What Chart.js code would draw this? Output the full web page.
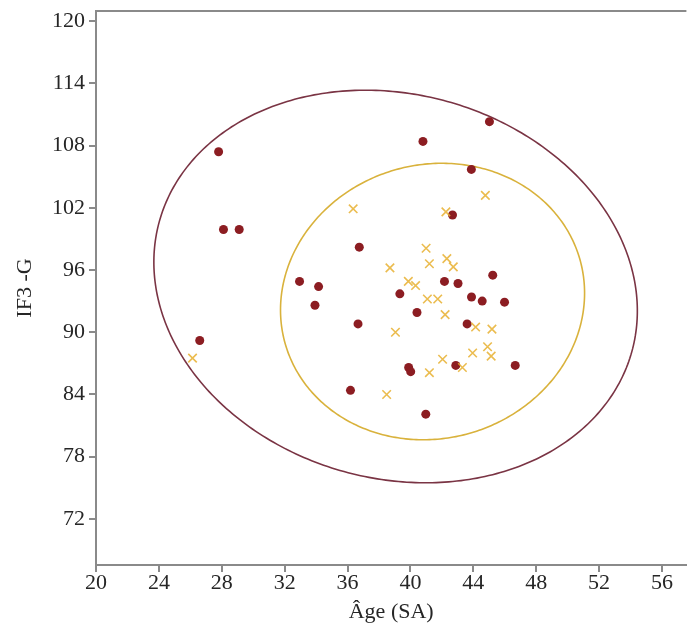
<!DOCTYPE html>
<html>
<head>
<meta charset="utf-8">
<script src="https://cdn.jsdelivr.net/npm/chart.js@4/dist/chart.umd.min.js"></script>
<style>
  html, body { margin: 0; padding: 0; background: #ffffff; }
  #wrap { width: 694px; height: 631px; }
</style>
</head>
<body>
<div id="wrap"><canvas id="c" width="694" height="631"></canvas></div>
<script>
// ---- Data ----
const xTickValues = [20, 24, 28, 32, 36, 40, 44, 48, 52, 56];
const yTickValues = [72, 78, 84, 90, 96, 102, 108, 114, 120];

// Group 1 (dark red dots)
const dotsX = [27.80, 28.11, 29.11, 26.60, 45.03, 40.80, 43.88, 42.68, 36.75, 32.95,
               34.16, 33.93, 36.67, 39.33, 42.17, 43.03, 45.24, 43.89, 44.57, 45.99,
               40.42, 43.61, 39.89, 40.02, 42.89, 46.67, 36.19, 40.98];
const dotsY = [107.4, 99.9, 99.9, 89.2, 110.3, 108.4, 105.7, 101.3, 98.2, 94.9,
               94.4, 92.6, 90.8, 93.7, 94.9, 94.7, 95.5, 93.4, 93.0, 92.9,
               91.9, 90.8, 86.6, 86.2, 86.8, 86.8, 84.4, 82.1];

// Group 2 (yellow crosses)
const crossX = [26.14, 36.36, 44.77, 42.26, 41.00, 41.21, 42.32, 42.73, 38.70, 39.87,
                40.33, 41.08, 41.74, 42.21, 39.05, 44.15, 45.19, 44.91, 45.14, 43.96,
                42.05, 41.21, 43.31, 38.49];
const crossY = [87.5, 101.9, 103.2, 101.6, 98.1, 96.6, 97.1, 96.3, 96.2, 94.9,
                94.5, 93.2, 93.2, 91.7, 90.0, 90.5, 90.3, 88.6, 87.7, 88.0,
                87.4, 86.1, 86.6, 84.0];

// Density ellipses: [centerX, centerY, uX, uY, vX, vY]  (point = c + u*cos t + v*sin t)
const outerEllipse = [39.06, 94.41, 15.08, -5.99, -3.02, -17.95];
const innerEllipse = [41.41, 92.96, 9.43, 3.75, 2.15, -12.79];

const axisColor = '#8a8a8a';
const textColor = '#262626';
const fontFamily = "'Liberation Serif', 'Times New Roman', serif";

const dotData = dotsX.map((x, i) => ({ x: x, y: dotsY[i] }));
const crossData = crossX.map((x, i) => ({ x: x, y: crossY[i] }));

const ellipsePlugin = {
  id: 'ellipses',
  beforeDatasetsDraw(chart) {
    const ctx = chart.ctx;
    const xs = chart.scales.x, ys = chart.scales.y;
    const drawEllipse = (e, color) => {
      ctx.save();
      ctx.beginPath();
      for (let k = 0; k <= 360; k++) {
        const t = k * Math.PI / 180;
        const px = xs.getPixelForValue(e[0] + e[2] * Math.cos(t) + e[4] * Math.sin(t));
        const py = ys.getPixelForValue(e[1] + e[3] * Math.cos(t) + e[5] * Math.sin(t));
        if (k === 0) ctx.moveTo(px, py); else ctx.lineTo(px, py);
      }
      ctx.closePath();
      ctx.strokeStyle = color;
      ctx.lineWidth = 1.6;
      ctx.stroke();
      ctx.restore();
    };
    drawEllipse(outerEllipse, '#7a3444');
    drawEllipse(innerEllipse, '#d9b23c');
  },
  afterDraw(chart) {
    const ctx = chart.ctx;
    const a = chart.chartArea;
    ctx.save();
    ctx.strokeStyle = axisColor;
    ctx.lineWidth = 2;
    ctx.beginPath();
    ctx.moveTo(a.left - 1, a.top);
    ctx.lineTo(a.right, a.top);
    ctx.stroke();
    ctx.restore();
  }
};

new Chart(document.getElementById('c'), {
  type: 'scatter',
  data: {
    datasets: [
      {
        label: 'Groupe 2',
        data: crossData,
        pointStyle: 'crossRot',
        pointRadius: 6,
        pointHoverRadius: 6,
        borderColor: 'rgba(232, 176, 48, 0.85)',
        backgroundColor: 'rgba(232, 176, 48, 0.85)',
        borderWidth: 1.6
      },
      {
        label: 'Groupe 1',
        data: dotData,
        pointStyle: 'circle',
        pointRadius: 4.5,
        pointHoverRadius: 4.5,
        borderWidth: 0,
        backgroundColor: '#8c1d22',
        borderColor: '#8c1d22'
      }
    ]
  },
  options: {
    responsive: false,
    animation: false,
    layout: { padding: { top: 11, right: 0, left: 0, bottom: 0 } },
    plugins: {
      legend: { display: false },
      tooltip: { enabled: false }
    },
    scales: {
      x: {
        type: 'linear',
        min: 20,
        max: 57.56,
        afterBuildTicks: (s) => { s.ticks = xTickValues.map(v => ({ value: v })); },
        afterFit: (s) => { s.height = 66; s.paddingLeft = 0; s.paddingRight = 0; },
        border: { display: true, color: axisColor, width: 2 },
        grid: { drawOnChartArea: false, drawTicks: true, tickLength: 7, color: axisColor, lineWidth: 2 },
        ticks: {
          autoSkip: false, maxRotation: 0, padding: -2,
          color: textColor,
          font: { family: fontFamily, size: 22 }
        },
        title: {
          display: true, text: 'Âge (SA)', color: textColor,
          font: { family: fontFamily, size: 22 },
          padding: { top: 0, bottom: 6 }
        }
      },
      y: {
        type: 'linear',
        min: 67.56,
        max: 120.97,
        afterBuildTicks: (s) => { s.ticks = yTickValues.map(v => ({ value: v })); },
        afterFit: (s) => { s.width = 96; s.paddingTop = 0; s.paddingBottom = 0; },
        border: { display: true, color: axisColor, width: 2 },
        grid: { drawOnChartArea: false, drawTicks: true, tickLength: 7, color: axisColor, lineWidth: 2 },
        ticks: {
          autoSkip: false, padding: 4,
          color: textColor,
          font: { family: fontFamily, size: 22 }
        },
        title: {
          display: true, text: 'IF3 -G', color: textColor,
          font: { family: fontFamily, size: 22 },
          padding: { top: 12, bottom: 0 }
        }
      }
    }
  },
  plugins: [ellipsePlugin]
});
</script>
</body>
</html>
